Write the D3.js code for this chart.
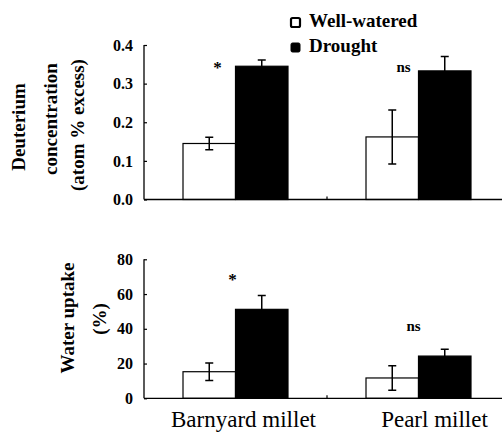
<!DOCTYPE html>
<html>
<head>
<meta charset="utf-8">
<script src="https://cdn.jsdelivr.net/npm/d3@7"></script>
<style>
  body { margin: 0; background: #fff; }
  svg text { font-family: "Liberation Serif", "Times New Roman", Times, serif; fill: #000; }
</style>
</head>
<body>
<div id="chart"></div>
<script>
// Chart data
var categories = ["Barnyard millet", "Pearl millet"];
var treatments = ["Well-watered", "Drought"];

var deutMeans = [[0.145, 0.345], [0.162, 0.333]];
var deutErrors = [[0.016, 0.016], [0.070, 0.037]];
var deutTicks = [0.0, 0.1, 0.2, 0.3, 0.4];
var deutSig = ["*", "ns"];
var deutSigLevel = [0.361, 0.344];

var uptakeMeans = [[15.3, 51.2], [11.7, 24.3]];
var uptakeErrors = [[5, 8], [7, 4]];
var uptakeTicks = [0, 20, 40, 60, 80];
var uptakeSig = ["*", "ns"];
var uptakeSigLevel = [72.3, 41.6];

var serif = '"Liberation Serif", "Times New Roman", Times, serif';

var svg = d3.select("#chart").append("svg").attr("width", 504).attr("height", 432);

// Shared x scales
var x0 = d3.scaleBand().domain(categories).range([144, 510]);
var x1 = d3.scaleBand().domain(treatments).range([0, x0.bandwidth()]).paddingOuter(0.743);
var fills = {"Well-watered": "#fff", "Drought": "#000"};

function drawPanel(opts) {
    var y = d3.scaleLinear().domain(opts.domain).range([opts.bottom, opts.top]);
    var g = svg.append("g");

    // y axis with inward ticks
    var yAxis = d3.axisRight(y).tickValues(opts.ticks).tickSize(3).tickFormat(d3.format(opts.fmt));
    var yAxisG = g.append("g").attr("transform", "translate(144,0)").call(yAxis);
    yAxisG.attr("font-family", serif);
    yAxisG.select(".domain").attr("d", "M0," + y(opts.domain[1]) + "V" + y(0)).attr("stroke-width", 1.3);
    yAxisG.selectAll(".tick line").attr("stroke-width", 1.2);
    yAxisG.selectAll(".tick text")
        .attr("x", -11)
        .attr("text-anchor", "end")
        .style("font-size", "16px")
        .style("font-weight", "bold");

    // bars
    var groups = g.selectAll(".grp").data(categories).enter().append("g")
        .attr("transform", function(d) { return "translate(" + x0(d) + ",0)"; });
    groups.each(function(cat, ci) {
        var gg = d3.select(this);
        treatments.forEach(function(t, ti) {
            var v = opts.means[ci][ti];
            gg.append("rect")
                .attr("x", x1(t))
                .attr("y", y(v))
                .attr("width", x1.bandwidth())
                .attr("height", y(0) - y(v))
                .attr("fill", fills[t])
                .attr("stroke", "#000")
                .attr("stroke-width", 1.2);
            var e = opts.errors[ci][ti];
            var cx = x1(t) + x1.bandwidth() / 2;
            gg.append("path")
                .attr("d", "M" + cx + "," + y(v + e) + "V" + y(v - e) +
                    "M" + (cx - 4) + "," + y(v + e) + "H" + (cx + 4) +
                    "M" + (cx - 4) + "," + y(v - e) + "H" + (cx + 4))
                .attr("stroke", "#000")
                .attr("stroke-width", 1.5)
                .attr("fill", "none");
        });
        // significance label
        gg.append("text")
            .attr("x", x0.bandwidth() / 2 + opts.sigOffset[ci])
            .attr("y", y(opts.sigLevel[ci]))
            .attr("dy", opts.sig[ci] === "*" ? "0.75em" : "0.35em")
            .attr("text-anchor", "middle")
            .style("font-size", opts.sig[ci] === "*" ? "17px" : "15px")
            .style("font-weight", "bold")
            .text(opts.sig[ci]);
    });

    // x axis line and middle tick
    g.append("path")
        .attr("d", "M144," + y(0) + "H502")
        .attr("stroke", "#000").attr("stroke-width", 1.3);
    g.append("path")
        .attr("d", "M" + x0(categories[1]) + "," + y(0) + "v-3")
        .attr("stroke", "#000").attr("stroke-width", 1.2);

    // y title lines
    opts.title.forEach(function(line) {
        g.append("text")
            .attr("transform", "translate(" + line.x + "," + line.y + ") rotate(-90)")
            .attr("text-anchor", "middle")
            .style("font-size", "19px")
            .style("font-weight", "bold")
            .text(line.text);
    });
}

drawPanel({
    domain: [0, 0.4], top: 45, bottom: 199.5, ticks: deutTicks, fmt: ".1f",
    means: deutMeans, errors: deutErrors, sig: deutSig, sigLevel: deutSigLevel,
    sigOffset: [-18, -15],
    title: [
        {text: "Deuterium", x: 25, y: 127},
        {text: "concentration", x: 57, y: 119},
        {text: "(atom % excess)", x: 84, y: 125}
    ]
});

drawPanel({
    domain: [0, 80], top: 259.3, bottom: 398.3, ticks: uptakeTicks, fmt: "d",
    means: uptakeMeans, errors: uptakeErrors, sig: uptakeSig, sigLevel: uptakeSigLevel,
    sigOffset: [-3, -5],
    title: [
        {text: "Water uptake", x: 74, y: 318},
        {text: "(%)", x: 106, y: 319}
    ]
});

// category labels
svg.selectAll(".cat").data(categories).enter().append("text")
    .attr("x", function(d, i) { return x0(d) + x0.bandwidth() / 2 + (i === 0 ? 8 : 16); })
    .attr("y", 427)
    .attr("text-anchor", "middle")
    .style("font-size", "23px")
    .text(function(d) { return d; });

// legend
var legend = svg.append("g").attr("transform", "translate(290,0)");
treatments.forEach(function(t, i) {
    var ly = 27 + i * 25;
    legend.append("rect")
        .attr("x", 1).attr("y", ly - 9)
        .attr("width", 9).attr("height", 9)
        .attr("rx", 1.5)
        .attr("fill", fills[t])
        .attr("stroke", "#000")
        .attr("stroke-width", t === "Drought" ? 1 : 2.2);
    legend.append("text")
        .attr("x", 19).attr("y", ly)
        .style("font-size", "19px")
        .style("font-weight", "bold")
        .text(t);
});
</script>
</body>
</html>
